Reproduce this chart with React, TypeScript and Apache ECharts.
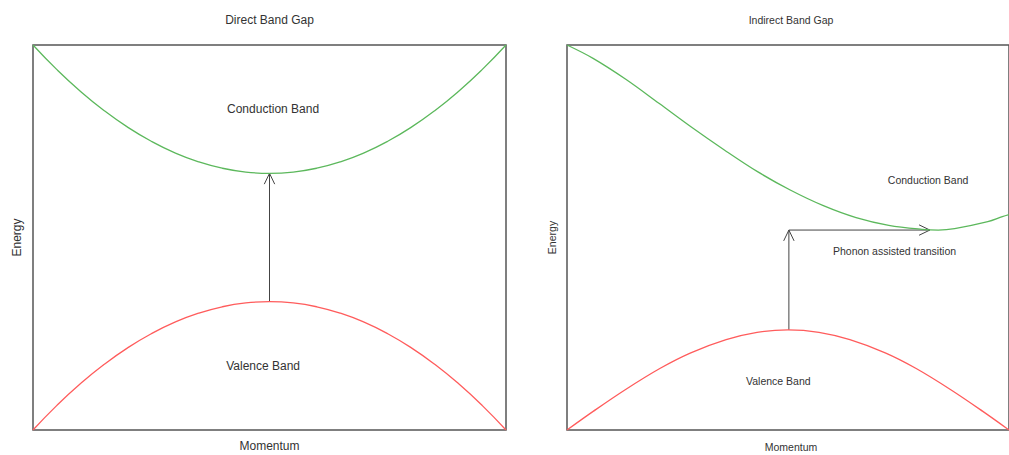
import React, { useEffect, useRef } from 'react';
import * as echarts from 'echarts';

// Left panel: direct band gap (momentum -1..1, energy 0..3)
const leftMomentum = [-1, -0.9, -0.8, -0.7, -0.6, -0.5, -0.4, -0.3, -0.2, -0.1, 0, 0.1, 0.2, 0.3, 0.4, 0.5, 0.6, 0.7, 0.8, 0.9, 1];
const leftConduction = [3, 2.81, 2.64, 2.49, 2.36, 2.25, 2.16, 2.09, 2.04, 2.01, 2, 2.01, 2.04, 2.09, 2.16, 2.25, 2.36, 2.49, 2.64, 2.81, 3];
const leftValence = [0, 0.19, 0.36, 0.51, 0.64, 0.75, 0.84, 0.91, 0.96, 0.99, 1, 0.99, 0.96, 0.91, 0.84, 0.75, 0.64, 0.51, 0.36, 0.19, 0];

// Right panel: indirect band gap (momentum 0..1, energy 0..3)
const rightConductionMomentum = [0, 0.059, 0.133, 0.208, 0.282, 0.356, 0.431, 0.505, 0.58, 0.654, 0.728, 0.803, 0.84, 0.877, 0.952, 0.985, 1];
const rightConduction = [3, 2.896, 2.733, 2.546, 2.359, 2.182, 2.013, 1.87, 1.748, 1.655, 1.595, 1.564, 1.558, 1.569, 1.623, 1.662, 1.678];
const rightValenceMomentum = [0, 0.06, 0.13, 0.21, 0.28, 0.36, 0.43, 0.5, 0.57, 0.64, 0.72, 0.79, 0.87, 0.94, 1];
const rightValence = [0, 0.147, 0.31, 0.479, 0.601, 0.704, 0.761, 0.78, 0.761, 0.704, 0.601, 0.479, 0.31, 0.147, 0];

// Transitions: [x1, y1, x2, y2]
const leftTransitions = [[0, 1, 0, 2]];
const rightTransitions = [
  [0.502, 0.78, 0.502, 1.558],
  [0.502, 1.558, 0.821, 1.558],
];

// Labels: [x, y]
const leftLabelText = ['Conduction Band', 'Valence Band'];
const leftLabelPos = [[0.015, 2.5], [-0.027, 0.5]];
const rightLabelText = ['Conduction Band', 'Phonon assisted transition', 'Valence Band'];
const rightLabelPos = [[0.817, 1.948], [0.741, 1.392], [0.478, 0.382]];

const FONT = '"Liberation Sans", Arial, sans-serif';
const TEXT_COLOR = '#333';
const GREEN = '#5cb85c';
const RED = '#ff5c5c';

function zip(xs: number[], ys: number[]) {
  return xs.map((x, i) => [x, ys[i]]);
}

function arrowRender(params: any, api: any) {
  const p1 = api.coord([api.value(0), api.value(1)]);
  const p2 = api.coord([api.value(2), api.value(3)]);
  const ang = Math.atan2(p2[1] - p1[1], p2[0] - p1[0]);
  const len = 12;
  const spread = Math.PI / 7;
  const a1 = [p2[0] - len * Math.cos(ang - spread), p2[1] - len * Math.sin(ang - spread)];
  const a2 = [p2[0] - len * Math.cos(ang + spread), p2[1] - len * Math.sin(ang + spread)];
  return {
    type: 'group',
    children: [
      { type: 'line', shape: { x1: p1[0], y1: p1[1], x2: p2[0], y2: p2[1] }, style: { stroke: '#444', lineWidth: 1 } },
      { type: 'polyline', shape: { points: [a1, p2, a2] }, style: { stroke: '#444', lineWidth: 1, fill: null } },
    ],
  };
}

function labelRender(texts: string[], size: number) {
  return (params: any, api: any) => {
    const p = api.coord([api.value(0), api.value(1)]);
    return {
      type: 'text',
      x: p[0],
      y: p[1],
      style: {
        text: texts[params.dataIndex],
        align: 'center',
        verticalAlign: 'middle',
        fontSize: size,
        fontFamily: FONT,
        fill: TEXT_COLOR,
      },
    };
  };
}

function textEl(text: string, x: number, y: number, size: number, rotate = 0) {
  return {
    type: 'text',
    x,
    y,
    rotation: rotate,
    style: { text, align: 'center', verticalAlign: 'middle', fontSize: size, fontFamily: FONT, fill: TEXT_COLOR },
  };
}

export default function App() {
  const ref = useRef<HTMLDivElement>(null);
  useEffect(() => {
    if (!ref.current) return;
    const chart = echarts.init(ref.current, undefined, { renderer: 'svg' });
    const hiddenAxis = { show: true, axisLine: { show: false }, axisTick: { show: false }, axisLabel: { show: false }, splitLine: { show: false } };
    chart.setOption({
      animation: false,
      backgroundColor: '#fff',
      grid: [
        { left: 33, top: 45, width: 473, height: 385, show: true, borderColor: '#555', borderWidth: 1.5, backgroundColor: 'transparent' },
        { left: 567, top: 45, width: 448, height: 385, show: true, borderColor: '#555', borderWidth: 1.5, backgroundColor: 'transparent' },
      ],
      xAxis: [
        { type: 'value', gridIndex: 0, min: -1, max: 1, ...hiddenAxis },
        { type: 'value', gridIndex: 1, min: 0, max: 1, ...hiddenAxis },
      ],
      yAxis: [
        { type: 'value', gridIndex: 0, min: 0, max: 3, ...hiddenAxis },
        { type: 'value', gridIndex: 1, min: 0, max: 3, ...hiddenAxis },
      ],
      graphic: [
        textEl('Direct Band Gap', 269.5, 20, 12),
        textEl('Momentum', 269.5, 446, 12),
        textEl('Energy', 17, 237.5, 12, Math.PI / 2),
        textEl('Indirect Band Gap', 791, 20, 10.5),
        textEl('Momentum', 791, 447, 10.5),
        textEl('Energy', 552, 237.5, 10.5, Math.PI / 2),
      ],
      series: [
        { type: 'line', xAxisIndex: 0, yAxisIndex: 0, data: zip(leftMomentum, leftConduction), smooth: true, showSymbol: false, lineStyle: { color: GREEN, width: 1.3 } },
        { type: 'line', xAxisIndex: 0, yAxisIndex: 0, data: zip(leftMomentum, leftValence), smooth: true, showSymbol: false, lineStyle: { color: RED, width: 1.3 } },
        { type: 'line', xAxisIndex: 1, yAxisIndex: 1, data: zip(rightConductionMomentum, rightConduction), smooth: 0.35, showSymbol: false, lineStyle: { color: GREEN, width: 1.3 } },
        { type: 'line', xAxisIndex: 1, yAxisIndex: 1, data: zip(rightValenceMomentum, rightValence), smooth: 0.35, showSymbol: false, lineStyle: { color: RED, width: 1.3 } },
        { type: 'custom', xAxisIndex: 0, yAxisIndex: 0, data: leftTransitions, encode: { x: [0, 2], y: [1, 3] }, renderItem: arrowRender, clip: false },
        { type: 'custom', xAxisIndex: 1, yAxisIndex: 1, data: rightTransitions, encode: { x: [0, 2], y: [1, 3] }, renderItem: arrowRender, clip: false },
        { type: 'custom', xAxisIndex: 0, yAxisIndex: 0, data: leftLabelPos, encode: { x: 0, y: 1 }, renderItem: labelRender(leftLabelText, 12) },
        { type: 'custom', xAxisIndex: 1, yAxisIndex: 1, data: rightLabelPos, encode: { x: 0, y: 1 }, renderItem: labelRender(rightLabelText, 10.5) },
      ],
    });
    return () => chart.dispose();
  }, []);
  return <div ref={ref} style={{ position: 'absolute', left: 0, top: 0, width: 1009, height: 455 }} />;
}
